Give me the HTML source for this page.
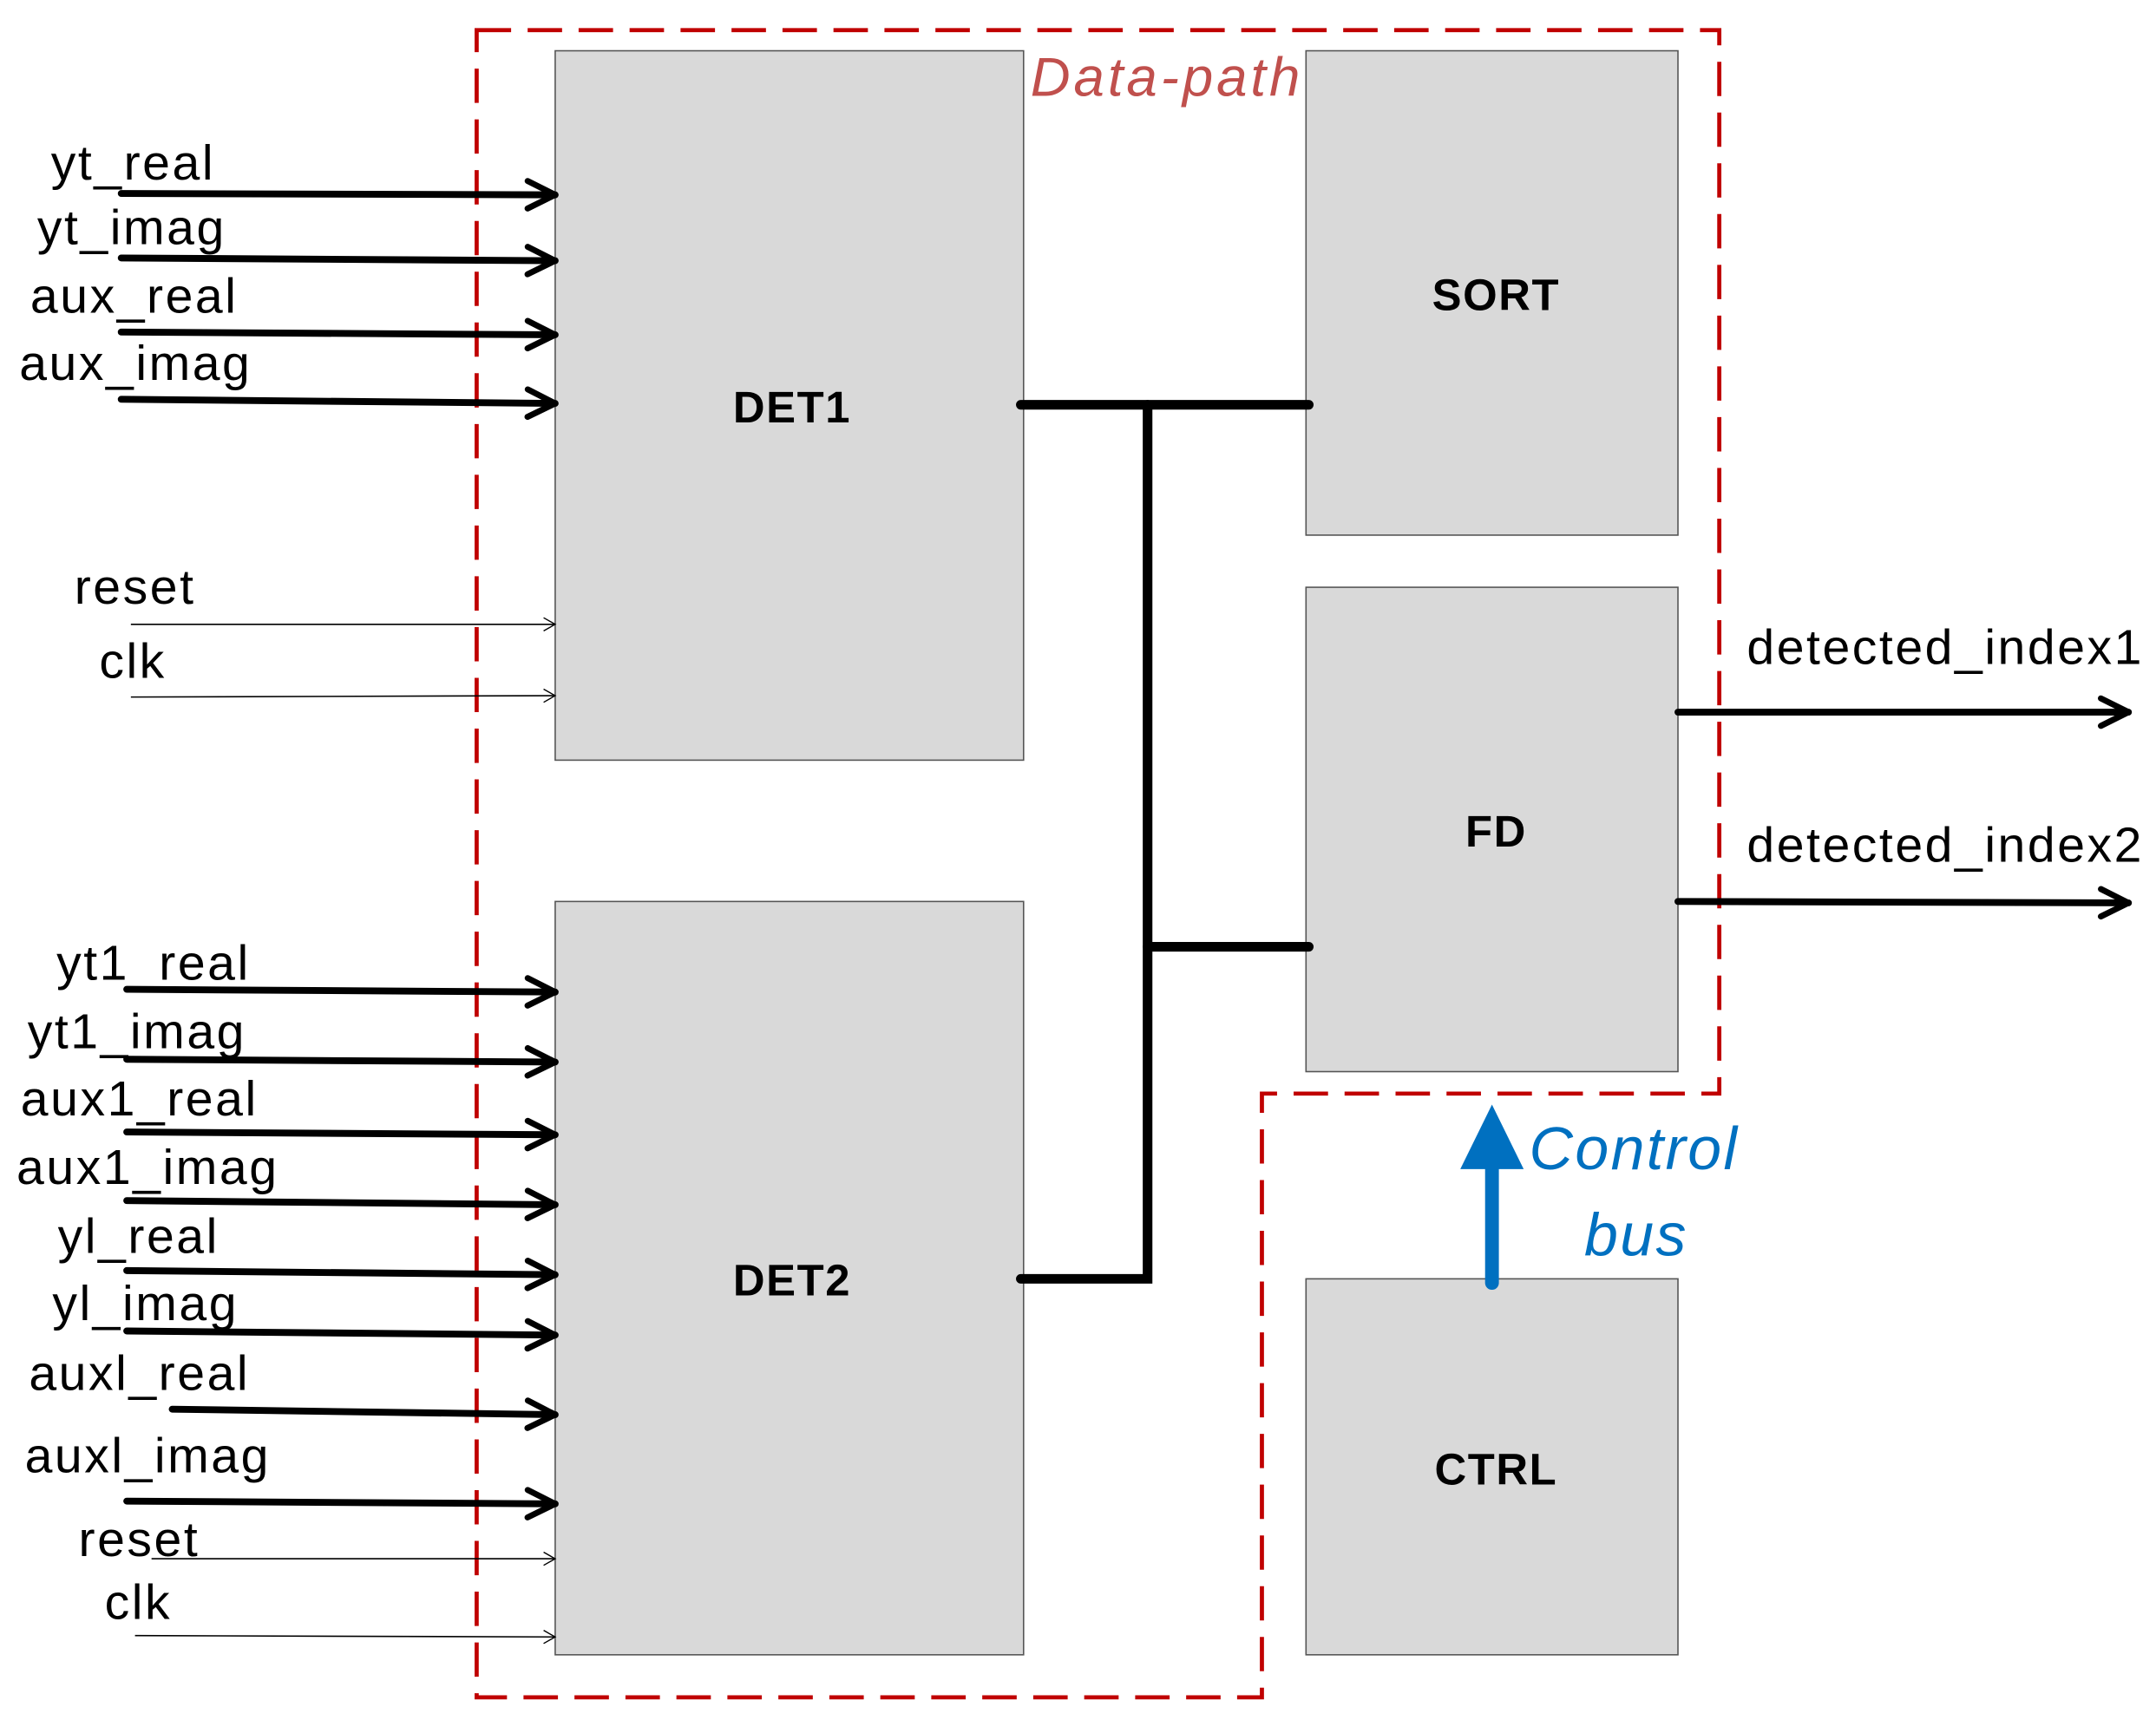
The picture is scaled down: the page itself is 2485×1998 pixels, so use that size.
<!DOCTYPE html>
<html><head><meta charset="utf-8"><style>
html,body{margin:0;padding:0;background:#fff;}
svg{display:block;}
</style></head><body>
<svg width="2485" height="1998" viewBox="0 0 1565 1263" preserveAspectRatio="none" xmlns="http://www.w3.org/2000/svg" font-family="Liberation Sans, sans-serif">
<defs>
<marker id="ah" viewBox="0 0 20 20" refX="18" refY="10" markerWidth="5" markerHeight="5" orient="auto" markerUnits="strokeWidth">
<path d="M2,2 L18,10 L2,18" fill="none" stroke="#000" stroke-width="3.5" stroke-linecap="round" stroke-linejoin="round"/>
</marker>
<marker id="ahs" viewBox="0 0 20 20" refX="18" refY="10" markerWidth="12" markerHeight="12" orient="auto" markerUnits="strokeWidth">
<path d="M4,2 L18,10 L4,18" fill="none" stroke="#000" stroke-width="1.5"/>
</marker>
</defs>
<rect width="1565" height="1263" fill="#fff"/>
<g fill="#d9d9d9" stroke="#555" stroke-width="1">
<rect x="403" y="37" width="340" height="517"/>
<rect x="403" y="657" width="340" height="549"/>
<rect x="948" y="37" width="270" height="353"/>
<rect x="948" y="428" width="270" height="353"/>
<rect x="948" y="932" width="270" height="274"/>
</g>
<g font-weight="bold" font-size="32" text-anchor="middle" fill="#000" letter-spacing="1">
<text x="575" y="308">DET1</text>
<text x="575" y="944">DET2</text>
<text x="1086" y="226">SORT</text>
<text x="1086" y="617">FD</text>
<text x="1086" y="1082">CTRL</text>
</g>
<path d="M346,22 H1248 V797 H916 V1237 H346 Z" fill="none" stroke="#c00000" stroke-width="3" stroke-dasharray="25,12"/>
<text x="748" y="70" font-size="40" font-style="italic" fill="#c0504d" letter-spacing="2.5">Data-path</text>
<g stroke="#000" stroke-width="5" stroke-linecap="round" marker-end="url(#ah)">
<line x1="88" y1="141" x2="403" y2="142"/>
<line x1="88" y1="188" x2="403" y2="190"/>
<line x1="88" y1="242" x2="403" y2="244"/>
<line x1="88" y1="291" x2="403" y2="294"/>
<line x1="92" y1="721" x2="403" y2="723"/>
<line x1="92" y1="772" x2="403" y2="774"/>
<line x1="92" y1="825" x2="403" y2="827"/>
<line x1="92" y1="875" x2="403" y2="878"/>
<line x1="92" y1="926" x2="403" y2="929"/>
<line x1="92" y1="970" x2="403" y2="973"/>
<line x1="125" y1="1027" x2="403" y2="1031"/>
<line x1="92" y1="1094" x2="403" y2="1096"/>
<line x1="1218" y1="519" x2="1545" y2="519"/>
<line x1="1218" y1="657" x2="1545" y2="658"/>
</g>
<g stroke="#000" stroke-width="1" marker-end="url(#ahs)">
<line x1="95" y1="455" x2="403" y2="455"/>
<line x1="95" y1="508" x2="403" y2="507"/>
<line x1="110" y1="1136" x2="403" y2="1136"/>
<line x1="98" y1="1192" x2="403" y2="1193"/>
</g>
<g font-size="36" fill="#000" letter-spacing="1.6">
<text x="37" y="131">yt_real</text>
<text x="27" y="178">yt_imag</text>
<text x="22" y="228">aux_real</text>
<text x="14" y="277">aux_imag</text>
<text x="54" y="440">reset</text>
<text x="72" y="494">clk</text>
<text x="41" y="714">yt1_real</text>
<text x="20" y="764">yt1_imag</text>
<text x="15" y="813">aux1_real</text>
<text x="12" y="863">aux1_imag</text>
<text x="42" y="913">yl_real</text>
<text x="38" y="962">yl_imag</text>
<text x="21" y="1013">auxl_real</text>
<text x="18" y="1073">auxl_imag</text>
<text x="57" y="1134">reset</text>
<text x="76" y="1180">clk</text>
<text x="1268" y="484">detected_index1</text>
<text x="1268" y="628">detected_index2</text>
</g>
<g stroke="#000" stroke-width="7" fill="none" stroke-linecap="round" stroke-linejoin="miter">
<path d="M741,295 H950"/>
<path d="M833,295 V932 H741"/>
<path d="M833,690 H950"/>
</g>
<line x1="1083" y1="935" x2="1083" y2="845" stroke="#0070c0" stroke-width="10" stroke-linecap="round"/>
<polygon points="1083,805 1060,852 1106,852" fill="#0070c0"/>
<g font-size="44" font-style="italic" fill="#0070c0" letter-spacing="1.5">
<text x="1110" y="852">Control</text>
<text x="1150" y="915">bus</text>
</g>
</svg>
</body></html>
